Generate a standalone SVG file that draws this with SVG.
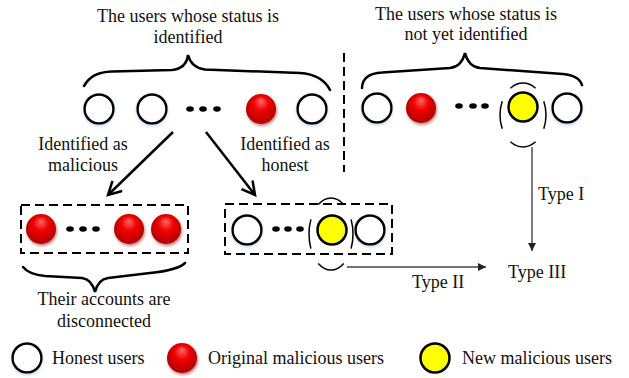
<svg xmlns="http://www.w3.org/2000/svg" width="629" height="378" viewBox="0 0 629 378">
<style>
text{font-family:"Liberation Serif","Times New Roman",serif;font-size:18px;fill:#111}
.w{fill:#fff;stroke:#000;stroke-width:2.5;filter:url(#glow)}
.r{fill:url(#redg);filter:url(#shad)}
.y{fill:#ffff00;stroke:#000;stroke-width:2.5}
.dot{fill:#000}
.brace{fill:none;stroke:#000;stroke-width:2.5;stroke-linecap:round}
.dbox{fill:none;stroke:#000;stroke-width:2;stroke-dasharray:9 5}
.del{fill:none;stroke:#000;stroke-width:1.5;stroke-dasharray:16 9;stroke-dashoffset:8}
.arr{fill:none;stroke:#000;stroke-width:2.5;marker-end:url(#open)}
.thin{fill:none;stroke:#444;stroke-width:1.4;marker-end:url(#tri)}
</style>
<defs>
<radialGradient id="redg" cx="50%" cy="45%" r="55%" fx="50%" fy="22%">
<stop offset="0" stop-color="#ff6a6a"/>
<stop offset="0.45" stop-color="#f20000"/>
<stop offset="1" stop-color="#b00000"/>
</radialGradient>
<filter id="shad" x="-30%" y="-30%" width="160%" height="170%">
<feDropShadow dx="1" dy="2" stdDeviation="1.5" flood-color="#700000" flood-opacity="0.5"/>
</filter>
<filter id="glow" x="-30%" y="-30%" width="160%" height="170%">
<feDropShadow dx="0" dy="1.5" stdDeviation="1.5" flood-color="#9fc0e0" flood-opacity="0.6"/>
</filter>
<marker id="open" markerUnits="userSpaceOnUse" markerWidth="20" markerHeight="20" refX="14" refY="8" orient="auto">
<path d="M1,1 L14,8 L1,15" fill="none" stroke="#000" stroke-width="2.5" stroke-linejoin="miter"/>
</marker>
<marker id="tri" markerUnits="userSpaceOnUse" markerWidth="10" markerHeight="10" refX="8" refY="4" orient="auto">
<path d="M0,0 L8,4 L0,8 Z" fill="#222"/>
</marker>
</defs>

<!-- titles -->
<g id="title-identified">
<text x="188" y="22" text-anchor="middle">The users whose status is</text>
<text x="188" y="43" text-anchor="middle">identified</text>
<path class="brace" d="M84,86 C90,76 98,72 112,71.5 L172,70 C182,69 187,63 188,55 C190,63 195,68 205,69.5 L300,73 C316,74 325,80 330,90"/>
</g>
<g id="title-unidentified">
<text x="466" y="20" text-anchor="middle">The users whose status is</text>
<text x="466" y="40" text-anchor="middle">not yet identified</text>
<path class="brace" d="M362,88 C362,79 369,73 382,72.5 L450,68 C459,67 463,61 465,53 C467,61 471,67 480,68 L563,74 C574,75 580,79 582,85"/>
</g>

<line id="divider" x1="344" y1="53" x2="344" y2="172" stroke="#000" stroke-width="2" stroke-dasharray="9 5"/>

<!-- top-left row -->
<g id="row-identified">
<circle class="w" cx="99" cy="109" r="14.5"/>
<circle class="w" cx="152" cy="109" r="14.5"/>
<ellipse class="dot" cx="190" cy="109" rx="3.8" ry="2.8"/>
<ellipse class="dot" cx="203" cy="109" rx="3.8" ry="2.8"/>
<ellipse class="dot" cx="217" cy="109" rx="3.8" ry="2.8"/>
<circle class="r" cx="261" cy="109" r="15"/>
<circle class="w" cx="312" cy="109" r="14.5"/>
</g>

<!-- top-right row -->
<g id="row-unidentified">
<circle class="w" cx="377" cy="108" r="14.5"/>
<circle class="r" cx="421" cy="108" r="15"/>
<ellipse class="dot" cx="459" cy="106" rx="3.8" ry="2.8"/>
<ellipse class="dot" cx="473" cy="106" rx="3.8" ry="2.8"/>
<ellipse class="dot" cx="485" cy="106" rx="3.8" ry="2.8"/>
<circle class="y" cx="523" cy="107" r="14.5"/>
<circle class="w" cx="567" cy="108" r="14.5"/>
<ellipse class="del" cx="523" cy="115" rx="23" ry="32" pathLength="100"/>
</g>

<!-- labels -->
<g id="label-malicious">
<text x="83" y="150" text-anchor="middle">Identified as</text>
<text x="83" y="171" text-anchor="middle">malicious</text>
</g>
<g id="label-honest">
<text x="285" y="150" text-anchor="middle">Identified as</text>
<text x="285" y="171" text-anchor="middle">honest</text>
</g>

<!-- bottom-left box -->
<g id="box-malicious">
<rect class="dbox" x="21" y="205" width="167" height="48"/>
<circle class="r" cx="41" cy="229" r="15"/>
<ellipse class="dot" cx="70" cy="229" rx="3.8" ry="2.8"/>
<ellipse class="dot" cx="83" cy="229" rx="3.8" ry="2.8"/>
<ellipse class="dot" cx="96" cy="229" rx="3.8" ry="2.8"/>
<circle class="r" cx="129" cy="229" r="15"/>
<circle class="r" cx="166" cy="229" r="15"/>
<path class="brace" d="M23,267 C27,272 33,275 45,276 L82,278 C89,279 93,284 95,292 C97,284 101,279 108,278 L150,273 C170,271 180,268 185,263"/>
<text x="104" y="305" text-anchor="middle">Their accounts are</text>
<text x="104" y="327" text-anchor="middle">disconnected</text>
</g>

<!-- bottom-middle box -->
<g id="box-honest">
<rect class="dbox" x="225" y="204" width="167" height="50"/>
<circle class="w" cx="247" cy="230" r="14.5"/>
<ellipse class="dot" cx="276" cy="229" rx="3.8" ry="2.8"/>
<ellipse class="dot" cx="288" cy="229" rx="3.8" ry="2.8"/>
<ellipse class="dot" cx="300" cy="229" rx="3.8" ry="2.8"/>
<circle class="y" cx="332" cy="230" r="14.5"/>
<circle class="w" cx="370" cy="230" r="14.5"/>
<ellipse class="del" cx="331" cy="234" rx="22" ry="36" pathLength="100"/>
</g>

<!-- connectors -->
<g id="connectors">
<line class="arr" x1="173" y1="132" x2="108" y2="195"/>
<line class="arr" x1="206" y1="132" x2="255" y2="195"/>
<line class="thin" x1="532" y1="147" x2="532" y2="251"/>
<line class="thin" x1="347" y1="267" x2="486" y2="267"/>
</g>

<g id="type-labels">
<text x="538" y="200">Type I</text>
<text x="412" y="288">Type II</text>
<text x="508" y="278">Type III</text>
</g>

<!-- legend -->
<g id="legend">
<circle class="w" cx="27" cy="358" r="14.5"/>
<text x="52" y="364">Honest users</text>
<circle class="r" cx="182" cy="358" r="15"/>
<text x="208" y="364">Original malicious users</text>
<circle class="y" cx="435" cy="358" r="14.5"/>
<text x="462" y="364">New malicious users</text>
</g>
</svg>
